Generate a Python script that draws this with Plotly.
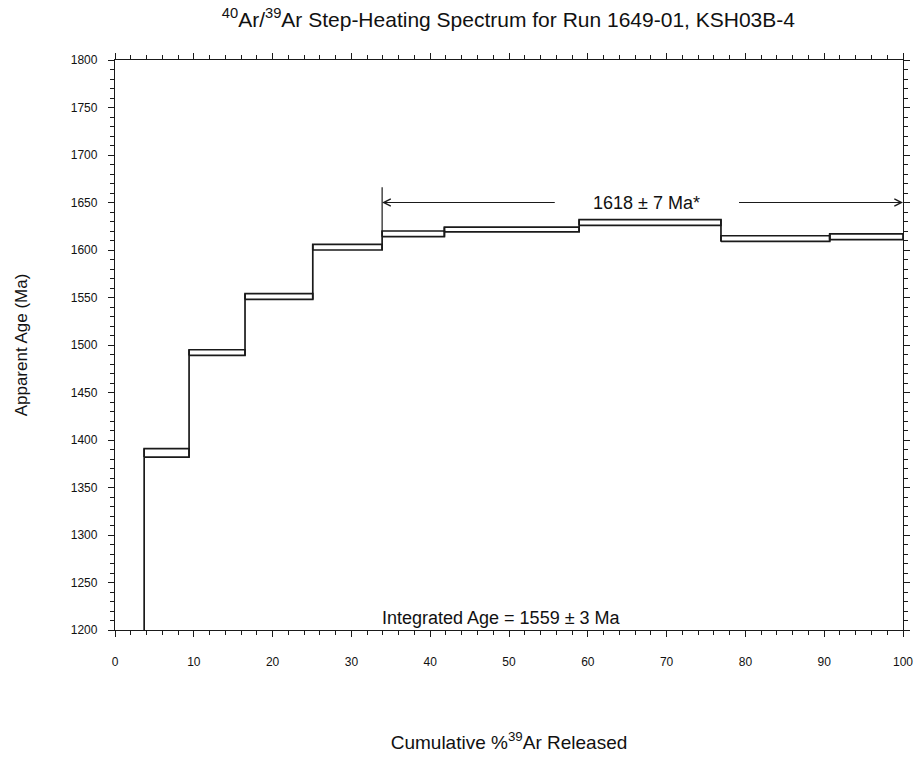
import plotly.graph_objects as go

# Step-heating data: cumulative %39Ar boundaries and age envelope (Ma)
cum_left = [0.0, 3.7, 9.4, 16.5, 25.1, 33.9, 41.8, 58.9, 76.9, 90.7]
cum_right = [3.7, 9.4, 16.5, 25.1, 33.9, 41.8, 58.9, 76.9, 90.7, 100.0]
age_top = [1160, 1391, 1495, 1554, 1606, 1620, 1624, 1632, 1615, 1617]
age_bot = [1140, 1382, 1489, 1548, 1600, 1614, 1619, 1626, 1609, 1611]

plateau_start = 33.9
plateau_end = 100.0
plateau_y = 1650
plateau_tick_top = 1666
plateau_label = "1618 ± 7 Ma*"
plateau_label_x = 67.5
plateau_gap = (56.0, 79.0)
integrated_label = "Integrated Age = 1559 ± 3 Ma"

x_ticks = [0, 10, 20, 30, 40, 50, 60, 70, 80, 90, 100]
y_ticks = [1200, 1250, 1300, 1350, 1400, 1450, 1500, 1550, 1600, 1650, 1700, 1750, 1800]

LINE = "#1a1a1a"

# Build boxes
bx, by = [], []
for l, r, t, b in zip(cum_left, cum_right, age_top, age_bot):
    bx += [l, r, r, l, l, None]
    by += [b, b, t, t, b, None]
# Connectors between adjacent boxes
for i in range(len(cum_left) - 1):
    xb = cum_right[i]
    lo = min(age_bot[i], age_bot[i + 1])
    hi = max(age_top[i], age_top[i + 1])
    bx += [xb, xb, None]
    by += [lo, hi, None]

fig = go.Figure()
fig.add_trace(go.Scatter(x=bx, y=by, mode="lines",
                         line=dict(color=LINE, width=1.7),
                         hoverinfo="skip", showlegend=False))
# plateau start tick
fig.add_trace(go.Scatter(x=[plateau_start, plateau_start],
                         y=[age_top[5], plateau_tick_top], mode="lines",
                         line=dict(color=LINE, width=1.2),
                         hoverinfo="skip", showlegend=False))

font_family = "Liberation Sans, Arial, sans-serif"

annotations = [
    dict(x=plateau_start, y=plateau_y, ax=plateau_gap[0], ay=plateau_y,
         xref="x", yref="y", axref="x", ayref="y", text="",
         showarrow=True, arrowhead=5, arrowsize=1.4, arrowwidth=1.0,
         arrowcolor=LINE),
    dict(x=plateau_end, y=plateau_y, ax=plateau_gap[1], ay=plateau_y,
         xref="x", yref="y", axref="x", ayref="y", text="",
         showarrow=True, arrowhead=5, arrowsize=1.4, arrowwidth=1.0,
         arrowcolor=LINE),
    dict(x=plateau_label_x, y=plateau_y, xref="x", yref="y",
         text=plateau_label, showarrow=False,
         font=dict(size=18, color="#111", family=font_family)),
    dict(x=49, y=1200, xref="x", yref="y", yanchor="bottom",
         text=integrated_label, showarrow=False, yshift=0,
         font=dict(size=18, color="#111", family=font_family)),
]

fig.update_layout(
    width=921, height=758,
    margin=dict(l=115, r=8, t=60, b=126),
    paper_bgcolor="white", plot_bgcolor="white",
    title=dict(text="<sup>40</sup>Ar/<sup>39</sup>Ar Step-Heating Spectrum for Run 1649-01, KSH03B-4",
               x=0.552, xanchor="center", y=0.984, yanchor="top",
               font=dict(size=21, color="#111", family=font_family)),
    annotations=annotations,
    font=dict(family=font_family, color="#111"),
)

axis_common = dict(showgrid=False, zeroline=False, showline=True,
                   linecolor=LINE, linewidth=1.3, mirror="allticks",
                   ticks="outside", tickcolor=LINE, tickwidth=1.2,
                   tickfont=dict(size=12, color="#111", family=font_family))

fig.update_xaxes(range=[0, 100], tickvals=x_ticks, ticklen=6,
                 ticklabelstandoff=14,
                 minor=dict(dtick=2, ticklen=4, tickcolor=LINE, tickwidth=1, ticks="outside"),
                 title=dict(text="Cumulative %<sup>39</sup>Ar Released",
                            font=dict(size=19, family=font_family), standoff=68),
                 **axis_common)
fig.update_yaxes(range=[1200, 1800], tickvals=y_ticks, ticklen=6,
                 ticklabelstandoff=8,
                 minor=dict(dtick=10, ticklen=4, tickcolor=LINE, tickwidth=1, ticks="outside"),
                 title=dict(text="Apparent Age (Ma)",
                            font=dict(size=17, family=font_family), standoff=38),
                 **axis_common)

fig.write_html("out.html")
